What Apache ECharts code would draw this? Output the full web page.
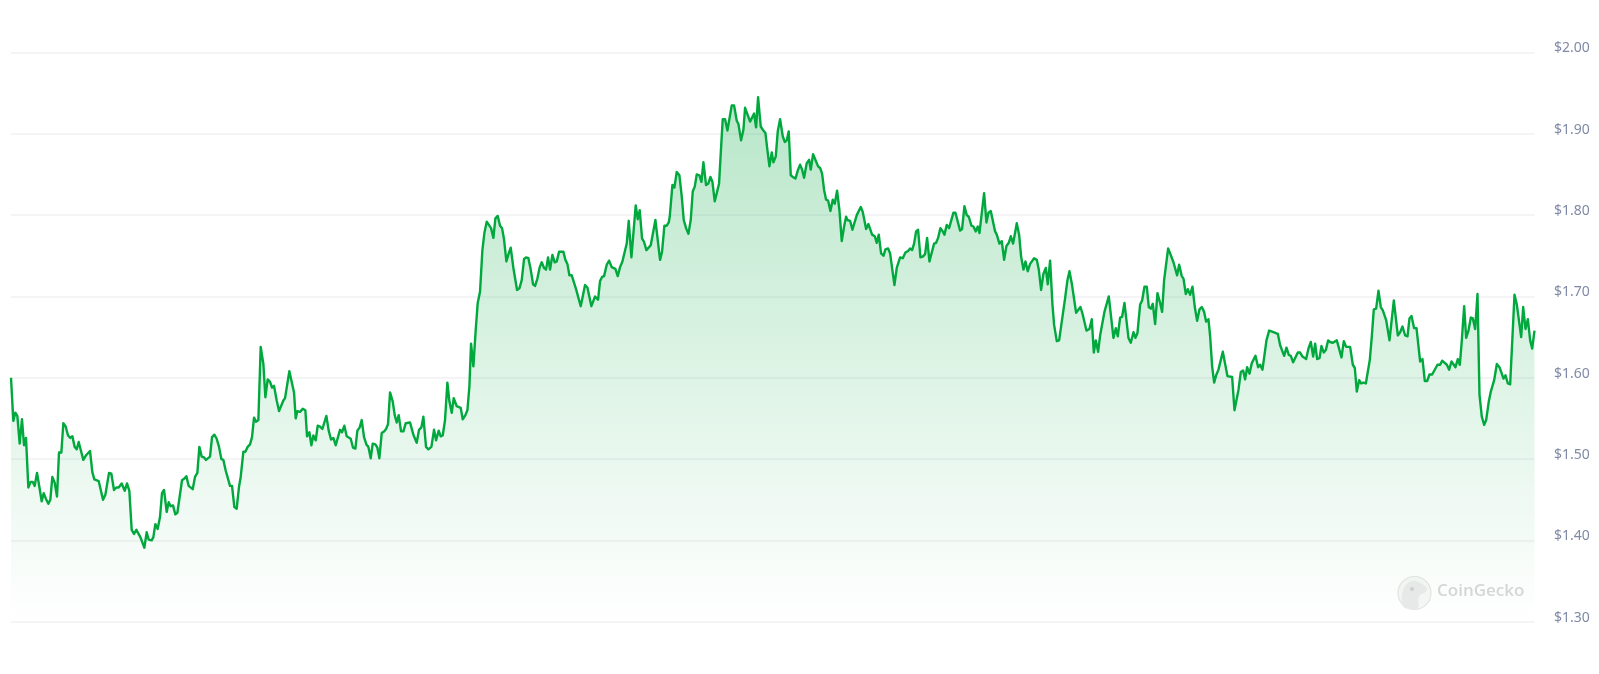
<!DOCTYPE html>
<html>
<head>
<meta charset="utf-8">
<title>CoinGecko price chart</title>
<script src="https://cdn.jsdelivr.net/npm/echarts@6/dist/echarts.min.js"></script>
<style>
  html, body { margin: 0; padding: 0; background: #fff; overflow: hidden; }
  #chart { width: 1600px; height: 674px; }
  #edge { position: absolute; left: 1599px; top: 0; width: 1px; height: 674px; background: #d4d4d4; }
</style>
</head>
<body>
<div id="chart"></div>
<div id="edge"></div>
<script>
// position along the period and price in dollars
const times = [
  0, 7, 13, 19, 26, 33, 39, 45, 52, 59, 65, 71, 78, 85, 92, 98, 105, 112, 118, 124,
  131, 138, 144, 151, 157, 164, 171, 178, 184, 191, 197, 203, 210, 217, 224, 237, 244, 250, 263, 276,
  283, 294, 301, 309, 316, 323, 332, 341, 348, 355, 362, 369, 376, 381, 388, 400, 407, 413, 422, 427,
  433, 440, 447, 453, 459, 467, 473, 479, 486, 493, 499, 513, 520, 526, 533, 545, 552, 559, 565, 572,
  579, 585, 597, 603, 610, 617, 624, 631, 637, 644, 657, 663, 670, 677, 684, 689, 697, 703, 710, 717,
  723, 729, 735, 742, 749, 757, 763, 770, 777, 783, 789, 797, 804, 809, 817, 822, 835, 849, 854, 859,
  867, 875, 883, 888, 895, 901, 907, 914, 920, 927, 934, 946, 953, 960, 967, 974, 987, 993, 1000, 1007,
  1019, 1026, 1033, 1039, 1046, 1052, 1059, 1066, 1072, 1079, 1085, 1093, 1099, 1105, 1112, 1119, 1125, 1131, 1137, 1145,
  1151, 1157, 1163, 1170, 1177, 1184, 1197, 1207, 1217, 1224, 1231, 1237, 1245, 1252, 1261, 1269, 1275, 1283, 1289, 1295,
  1302, 1309, 1315, 1322, 1328, 1337, 1342, 1349, 1355, 1363, 1369, 1375, 1380, 1387, 1394, 1400, 1407, 1414, 1420, 1427,
  1440, 1447, 1453, 1460, 1467, 1473, 1479, 1486, 1493, 1499, 1507, 1518, 1525, 1532, 1539, 1545, 1552, 1559, 1566, 1572,
  1579, 1586, 1592, 1599, 1605, 1611, 1617, 1624, 1631, 1637, 1644, 1657, 1663, 1669, 1675, 1682, 1695, 1709, 1722, 1729,
  1741, 1752, 1756, 1761, 1767, 1773, 1779, 1787, 1794, 1802, 1813, 1820, 1827, 1834, 1847, 1853, 1861, 1874, 1880, 1886,
  1893, 1899, 1906, 1919, 1933, 1947, 1953, 1960, 1967, 1973, 1976, 1984, 1990, 1997, 2005, 2012, 2018, 2025, 2032, 2039,
  2045, 2051, 2057, 2065, 2071, 2077, 2085, 2092, 2098, 2104, 2111, 2117, 2124, 2129, 2135, 2142, 2149, 2162, 2169, 2177,
  2182, 2190, 2197, 2202, 2210, 2217, 2222, 2229, 2235, 2241, 2249, 2257, 2263, 2269, 2275, 2282, 2287, 2294, 2300, 2307,
  2315, 2321, 2327, 2333, 2339, 2345, 2353, 2361, 2367, 2373, 2379, 2387, 2394, 2399, 2406, 2415, 2421, 2427, 2433, 2439,
  2445, 2451, 2458, 2465, 2471, 2478, 2485, 2492, 2499, 2505, 2509, 2517, 2524, 2537, 2549, 2555, 2565, 2572, 2583, 2591,
  2597, 2603, 2610, 2617, 2623, 2631, 2637, 2650, 2657, 2667, 2675, 2683, 2691, 2697, 2703, 2709, 2715, 2721, 2728, 2735,
  2742, 2748, 2755, 2769, 2775, 2781, 2788, 2795, 2800, 2807, 2814, 2819, 2827, 2833, 2847, 2853, 2860, 2867, 2873, 2881,
  2887, 2894, 2900, 2905, 2919, 2926, 2932, 2939, 2952, 2957, 2965, 2972, 2979, 2986, 2993, 2999, 3006, 3017, 3024, 3030,
  3037, 3043, 3050, 3057, 3069, 3077, 3083, 3090, 3097, 3104, 3110, 3117, 3124, 3129, 3137, 3144, 3162, 3169, 3175, 3182,
  3195, 3208, 3214, 3226, 3235, 3242, 3248, 3254, 3261, 3267, 3280, 3293, 3307, 3314, 3320, 3327, 3333, 3340, 3352, 3359,
  3367, 3373, 3379, 3387, 3393, 3400, 3407, 3413, 3419, 3425, 3432, 3439, 3447, 3453, 3459, 3471, 3477, 3487, 3492, 3498,
  3504, 3512, 3517, 3524, 3530, 3537, 3544, 3551, 3558, 3565, 3572, 3579, 3585, 3592, 3597, 3603, 3609, 3615, 3622, 3635,
  3649, 3663, 3670, 3682, 3689, 3696, 3702, 3708, 3715, 3722, 3733, 3741, 3747, 3754, 3766, 3774, 3781, 3800, 3807, 3819,
  3826, 3833, 3839, 3846, 3860, 3867, 3874, 3885, 3892, 3899, 3906, 3912, 3918, 3925, 3931, 3938, 3944, 3951, 3957, 3965,
  3977, 3991, 3998, 4005, 4017, 4025, 4031, 4037, 4044, 4050, 4057, 4064, 4076, 4082, 4088, 4095, 4102, 4109, 4115, 4125,
  4129, 4135, 4139, 4148, 4160, 4167, 4174, 4182, 4189, 4195, 4201, 4209, 4216, 4227, 4230, 4234, 4241, 4248, 4255, 4263,
  4267, 4279, 4287, 4293, 4307, 4314, 4321, 4333, 4340, 4346, 4352, 4359, 4365, 4372, 4379, 4385, 4392, 4399, 4405, 4412,
  4419, 4425, 4433, 4439, 4449, 4457, 4465, 4477, 4483, 4490, 4497, 4510, 4517, 4530, 4536, 4543, 4550, 4557, 4563, 4570
]
const prices = [
  1.600, 1.547, 1.557, 1.553, 1.519, 1.549, 1.517, 1.526, 1.465, 1.472, 1.472, 1.467, 1.483, 1.466, 1.448, 1.458, 1.451, 1.445, 1.450, 1.478,
  1.471, 1.454, 1.508, 1.508, 1.544, 1.540, 1.529, 1.526, 1.528, 1.515, 1.512, 1.521, 1.510, 1.499, 1.504, 1.510, 1.484, 1.475, 1.473, 1.450,
  1.456, 1.483, 1.482, 1.462, 1.465, 1.465, 1.470, 1.461, 1.470, 1.461, 1.413, 1.408, 1.413, 1.412, 1.404, 1.391, 1.410, 1.401, 1.400, 1.404,
  1.420, 1.414, 1.429, 1.458, 1.462, 1.435, 1.447, 1.442, 1.443, 1.432, 1.434, 1.474, 1.476, 1.479, 1.467, 1.463, 1.478, 1.483, 1.515, 1.503,
  1.502, 1.499, 1.503, 1.527, 1.530, 1.525, 1.515, 1.500, 1.499, 1.486, 1.467, 1.467, 1.441, 1.439, 1.466, 1.478, 1.509, 1.509, 1.515, 1.518,
  1.527, 1.551, 1.546, 1.548, 1.638, 1.617, 1.576, 1.598, 1.595, 1.588, 1.590, 1.572, 1.559, 1.557, 1.572, 1.575, 1.608, 1.582, 1.550, 1.559,
  1.558, 1.562, 1.560, 1.528, 1.533, 1.517, 1.529, 1.523, 1.541, 1.540, 1.537, 1.553, 1.535, 1.524, 1.526, 1.517, 1.536, 1.533, 1.541, 1.528,
  1.525, 1.514, 1.513, 1.535, 1.539, 1.548, 1.527, 1.518, 1.515, 1.501, 1.519, 1.518, 1.514, 1.501, 1.532, 1.534, 1.537, 1.543, 1.582, 1.571,
  1.554, 1.545, 1.554, 1.534, 1.534, 1.544, 1.545, 1.530, 1.520, 1.536, 1.539, 1.552, 1.515, 1.512, 1.515, 1.536, 1.523, 1.535, 1.528, 1.529,
  1.548, 1.594, 1.571, 1.557, 1.575, 1.565, 1.563, 1.563, 1.549, 1.554, 1.560, 1.589, 1.642, 1.614, 1.659, 1.692, 1.706, 1.757, 1.778, 1.792,
  1.784, 1.772, 1.796, 1.799, 1.787, 1.784, 1.770, 1.743, 1.753, 1.760, 1.735, 1.708, 1.710, 1.720, 1.746, 1.748, 1.747, 1.733, 1.715, 1.713,
  1.722, 1.736, 1.742, 1.735, 1.733, 1.748, 1.733, 1.751, 1.742, 1.743, 1.755, 1.755, 1.745, 1.740, 1.726, 1.726, 1.709, 1.688, 1.714, 1.711,
  1.688, 1.700, 1.702, 1.696, 1.719, 1.724, 1.725, 1.739, 1.744, 1.736, 1.734, 1.725, 1.736, 1.743, 1.765, 1.793, 1.748, 1.812, 1.795, 1.806,
  1.771, 1.767, 1.757, 1.763, 1.794, 1.745, 1.755, 1.787, 1.787, 1.791, 1.798, 1.837, 1.834, 1.853, 1.849, 1.823, 1.794, 1.784, 1.777, 1.794,
  1.829, 1.835, 1.850, 1.849, 1.841, 1.865, 1.837, 1.839, 1.847, 1.841, 1.817, 1.827, 1.839, 1.876, 1.918, 1.918, 1.904, 1.935, 1.935, 1.916,
  1.912, 1.892, 1.905, 1.932, 1.923, 1.915, 1.917, 1.925, 1.908, 1.945, 1.909, 1.904, 1.901, 1.880, 1.860, 1.877, 1.865, 1.872, 1.903, 1.918,
  1.897, 1.890, 1.892, 1.903, 1.849, 1.847, 1.845, 1.856, 1.862, 1.856, 1.846, 1.864, 1.868, 1.856, 1.875, 1.866, 1.860, 1.858, 1.851, 1.831,
  1.819, 1.818, 1.805, 1.819, 1.814, 1.830, 1.806, 1.768, 1.786, 1.798, 1.794, 1.793, 1.782, 1.800, 1.810, 1.804, 1.783, 1.789, 1.776, 1.774,
  1.766, 1.776, 1.753, 1.750, 1.758, 1.759, 1.753, 1.714, 1.735, 1.748, 1.747, 1.754, 1.756, 1.759, 1.757, 1.765, 1.780, 1.782, 1.748, 1.749,
  1.752, 1.772, 1.743, 1.765, 1.766, 1.772, 1.784, 1.780, 1.776, 1.788, 1.784, 1.783, 1.803, 1.803, 1.781, 1.783, 1.811, 1.800, 1.798, 1.787,
  1.786, 1.780, 1.786, 1.778, 1.827, 1.791, 1.803, 1.805, 1.780, 1.776, 1.765, 1.768, 1.745, 1.762, 1.766, 1.774, 1.765, 1.790, 1.776, 1.749,
  1.733, 1.743, 1.731, 1.740, 1.747, 1.745, 1.733, 1.708, 1.728, 1.735, 1.715, 1.744, 1.690, 1.665, 1.645, 1.646, 1.698, 1.720, 1.731, 1.716,
  1.680, 1.687, 1.679, 1.658, 1.660, 1.672, 1.631, 1.646, 1.632, 1.652, 1.681, 1.700, 1.649, 1.661, 1.651, 1.674, 1.675, 1.692, 1.649, 1.643,
  1.656, 1.649, 1.655, 1.690, 1.695, 1.712, 1.712, 1.687, 1.685, 1.691, 1.666, 1.704, 1.692, 1.681, 1.720, 1.759, 1.753, 1.742, 1.741, 1.726,
  1.739, 1.725, 1.722, 1.703, 1.709, 1.702, 1.712, 1.687, 1.670, 1.684, 1.687, 1.681, 1.669, 1.672, 1.651, 1.614, 1.594, 1.603, 1.610, 1.632,
  1.602, 1.601, 1.560, 1.585, 1.607, 1.609, 1.598, 1.613, 1.605, 1.618, 1.627, 1.613, 1.616, 1.610, 1.646, 1.658, 1.657, 1.654, 1.640, 1.627,
  1.637, 1.628, 1.627, 1.619, 1.631, 1.631, 1.626, 1.623, 1.636, 1.644, 1.626, 1.642, 1.623, 1.624, 1.639, 1.631, 1.634, 1.646, 1.644, 1.643,
  1.646, 1.625, 1.645, 1.638, 1.638, 1.616, 1.612, 1.583, 1.597, 1.593, 1.594, 1.593, 1.622, 1.651, 1.684, 1.685, 1.707, 1.687, 1.683, 1.671,
  1.670, 1.646, 1.661, 1.695, 1.652, 1.656, 1.663, 1.652, 1.651, 1.673, 1.676, 1.661, 1.661, 1.620, 1.618, 1.623, 1.596, 1.596, 1.604, 1.604,
  1.603, 1.616, 1.616, 1.621, 1.616, 1.610, 1.620, 1.613, 1.623, 1.616, 1.646, 1.688, 1.649, 1.658, 1.674, 1.673, 1.660, 1.703, 1.579, 1.552,
  1.542, 1.548, 1.571, 1.583, 1.597, 1.617, 1.613, 1.599, 1.603, 1.593, 1.592, 1.702, 1.690, 1.650, 1.687, 1.660, 1.672, 1.646, 1.636, 1.658
]
const tickStep = 0.1
const priceMin = 1.3
const priceMax = 2.0
const lineColor = '#00a83e'

const chart = echarts.init(document.getElementById('chart'), null, { renderer: 'canvas' })
chart.setOption({
  animation: false,
  backgroundColor: '#ffffff',
  grid: { left: 11, right: 65.5, top: 52.5, bottom: 52.3 },
  xAxis: {
    type: 'value',
    show: false,
    min: 0,
    max: times[times.length - 1]
  },
  yAxis: {
    type: 'value',
    position: 'right',
    min: priceMin,
    max: priceMax,
    interval: tickStep,
    axisLine: { show: false },
    axisTick: { show: false },
    splitLine: { lineStyle: { color: '#f0f1f4', width: 1.5 } },
    axisLabel: {
      margin: 19.5,
      color: '#808aa5',
      fontFamily: '"Noto Sans"',
      fontSize: 14,
      verticalAlign: 'bottom',
      lineHeight: 8,
      formatter: function (v) { return '$' + v.toFixed(2) }
    }
  },
  series: [
    {
      type: 'line',
      data: times.map(function (t, i) { return [t, prices[i]] }),
      showSymbol: false,
      smooth: false,
      lineStyle: { color: lineColor, width: 2.4, join: 'round' },
      areaStyle: {
        opacity: 1,
        color: new echarts.graphic.LinearGradient(0, 0, 0, 1, [
          { offset: 0, color: 'rgba(0, 168, 62, 0.28)' },
          { offset: 1, color: 'rgba(0, 168, 62, 0)' }
        ])
      }
    }
  ],
  // watermark
  graphic: [
    { type: 'circle', shape: { cx: 1414.5, cy: 593, r: 16.5 }, style: { fill: '#f6f7f6', stroke: '#e4e5e4', lineWidth: 1.2 } },
    {
      type: 'polygon',
      shape: {
        points: [[1403, 606], [1403, 590], [1412, 581], [1422, 584], [1427, 590], [1419, 597], [1418, 608], [1410, 609]],
        smooth: 0.4
      },
      style: { fill: '#e9eaea' }
    },
    { type: 'circle', shape: { cx: 1412, cy: 589, r: 2 }, style: { fill: '#cfd0d0' } },
    { type: 'text', left: 1437, top: 583, style: { text: 'CoinGecko', fill: '#d6d8d9', font: '600 17px "Open Sans"' } }
  ]
})
</script>
</body>
</html>
